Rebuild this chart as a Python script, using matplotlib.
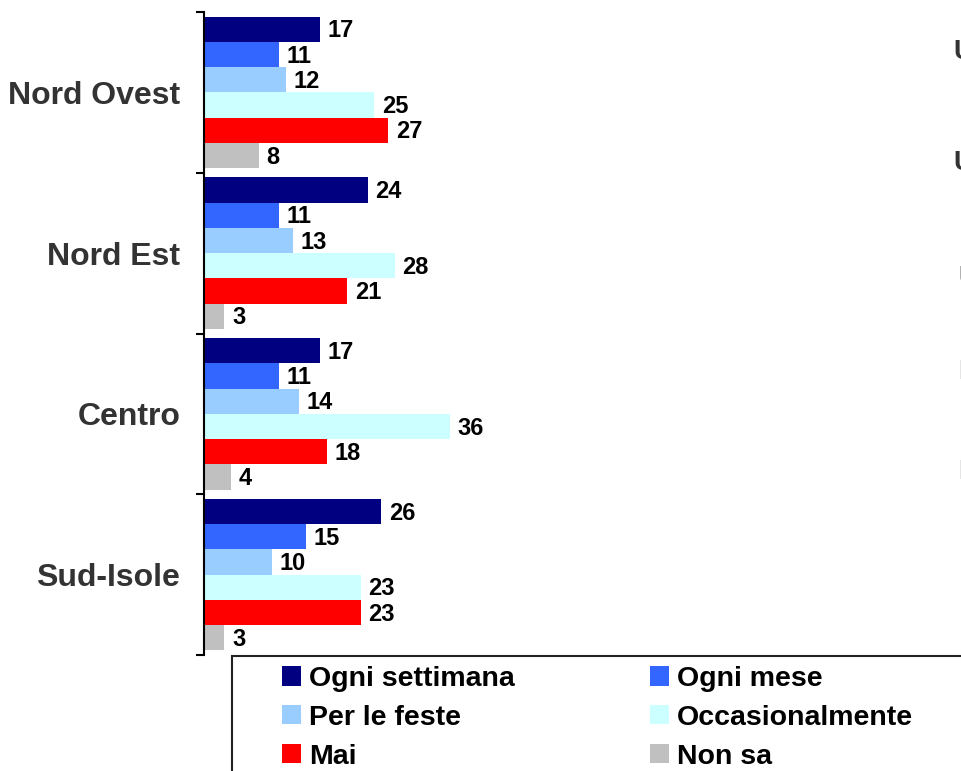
import matplotlib.pyplot as plt
from matplotlib.patches import Patch, Rectangle

plt.rcParams['font.family'] = ['Liberation Sans', 'DejaVu Sans']

aree = ['Nord Ovest', 'Nord Est', 'Centro', 'Sud-Isole']
serie = ['Ogni settimana', 'Ogni mese', 'Per le feste', 'Occasionalmente', 'Mai', 'Non sa']
colori = ['#000080', '#3366FF', '#99CCFF', '#CCFFFF', '#FF0000', '#C0C0C0']
valori = [
    [17, 24, 17, 26],   # Ogni settimana
    [11, 11, 11, 15],   # Ogni mese
    [12, 13, 14, 10],   # Per le feste
    [25, 28, 36, 23],   # Occasionalmente
    [27, 21, 18, 23],   # Mai
    [8, 3, 4, 3],       # Non sa
]
# frammenti di testo del grafico accanto, tagliati dal bordo
frammenti = ['U', 'U', 'U', 'I', 'I']

W, H = 961, 771
fig = plt.figure(figsize=(W / 100, H / 100), dpi=100)
ax = fig.add_axes([204 / W, 1 - 655 / H, 1 - 204 / W, (655 - 12) / H])

h = 0.157
pad = (1 - 6 * h) / 2
for s in range(6):
    y = [g + pad + (s + 0.5) * h for g in range(4)]
    ax.barh(y, valori[s], height=h, color=colori[s], linewidth=0)
    for yy, v in zip(y, valori[s]):
        ax.text(v + 1.1, yy + 0.01, str(v), va='center', ha='left',
                fontsize=17, fontweight='bold', color='black')

ax.set_xlim(0, 111)
ax.set_ylim(4, 0)
for sp in ['top', 'right', 'bottom']:
    ax.spines[sp].set_visible(False)
ax.spines['left'].set_linewidth(1.5)
ax.set_xticks([])
ax.set_yticks(range(5))
ax.set_yticklabels([])
ax.tick_params(axis='y', which='major', direction='out', length=6, width=1.5)
ax.set_yticks([g + 0.5 for g in range(4)], minor=True)
ax.set_yticklabels(aree, minor=True, fontsize=23, fontweight='bold', color='#333333')
ax.tick_params(axis='y', which='minor', length=0, pad=17)

# riquadro legenda (esce dal bordo della figura)
fig.patches.append(Rectangle((232 / W, -0.1), 1.0, 0.1 + (H - 656) / H,
                             transform=fig.transFigure, facecolor='none',
                             edgecolor='#222222', linewidth=1.5))

for col, idx, x0 in [(0, [0, 2, 4], 282), (1, [1, 3, 5], 650)]:
    handles = [Patch(facecolor=colori[i], edgecolor='none') for i in idx]
    fig.legend(handles, [serie[i] for i in idx], loc='upper left',
               bbox_to_anchor=(x0 / W, 1 - 666 / H), frameon=False,
               prop={'size': 20.5, 'weight': 'bold'}, handlelength=0.66,
               handleheight=0.66, handletextpad=0.28, labelspacing=0.45,
               borderpad=0, borderaxespad=0)

for t, (x, y) in zip(frammenti, [(953, 52), (953, 163), (958, 278), (958, 372), (958, 472)]):
    fig.text(x / W, 1 - y / H, t, fontsize=20, fontweight='bold', color='#333333',
             ha='left', va='center')

fig.savefig('out.png', dpi=100)
